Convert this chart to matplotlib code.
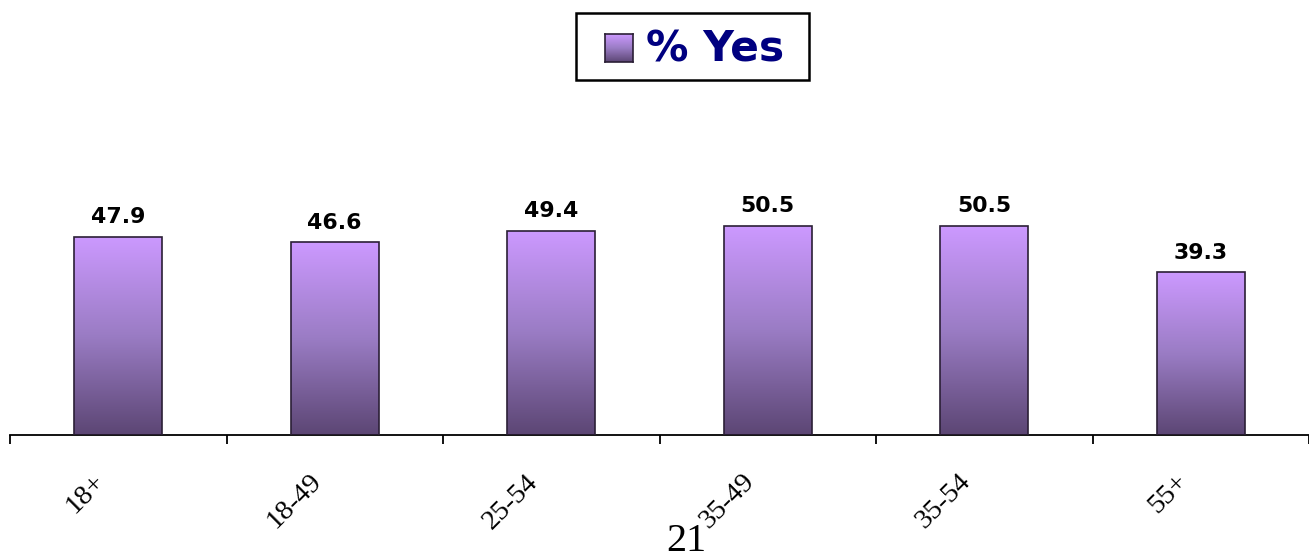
import numpy as np
import matplotlib.pyplot as plt
from matplotlib.colors import LinearSegmentedColormap
from matplotlib.patches import Rectangle
from matplotlib.transforms import ScaledTranslation

categories = ["18+", "18-49", "25-54", "35-49", "35-54", "55+"]
values = [47.9, 46.6, 49.4, 50.5, 50.5, 39.3]
series_name = "% Yes"
page_number = "21"

# purple fade, dark at the base, light at the top
fade = LinearSegmentedColormap.from_list("fade", ["#5c4674", "#9a7cc4", "#cc99ff"])
grad = np.linspace(0, 1, 256).reshape(-1, 1)

fig = plt.figure(figsize=(13.09, 5.57), dpi=100)
ax = fig.add_axes([10 / 1309, 122 / 557, 1299 / 1309, 335 / 557])

x = np.arange(len(categories))
bar_w = 0.406
bars = ax.bar(x, values, width=bar_w, color="none", edgecolor="#2b1f36",
              linewidth=1.2, zorder=3)
for b, v in zip(bars, values):
    x0 = b.get_x()
    im = ax.imshow(grad, cmap=fade, origin="lower", aspect="auto",
                   extent=[x0, x0 + b.get_width(), 0, v], zorder=2)
    im.set_clip_path(b)
    ax.text(b.get_x() + b.get_width() / 2, v + 3.3, f"{v:.1f}",
            ha="center", va="baseline", fontsize=15.8, fontweight="bold",
            family="DejaVu Sans", color="black")

ax.set_xlim(-0.5, len(categories) - 0.5)
ax.set_ylim(0, 81)
for s in ["top", "left", "right"]:
    ax.spines[s].set_visible(False)
ax.spines["bottom"].set_linewidth(1.3)
ax.set_yticks([])

ax.set_xticks(np.arange(-0.5, len(categories)), minor=True)
ax.tick_params(axis="x", which="minor", length=6.5, width=1.3, direction="out")
ax.set_xticks(x)
ax.set_xticklabels(categories, rotation=45, ha="right", va="center",
                   rotation_mode="anchor", family="Liberation Serif",
                   fontsize=20.5)
ax.tick_params(axis="x", which="major", length=0, pad=31)
shift = ScaledTranslation(-17 / 100, 0, fig.dpi_scale_trans)
for lab in ax.get_xticklabels():
    lab.set_transform(lab.get_transform() + shift)

# legend box
W, H = 1309, 557
fig.patches.append(Rectangle((576 / W, 1 - 80 / H), 233 / W, 67 / H,
                             transform=fig.transFigure, fill=False,
                             edgecolor="black", linewidth=1.8))
sw = fig.add_axes([605 / W, 1 - 62 / H, 28 / W, 28 / H])
sw.imshow(grad, cmap=fade, origin="lower", aspect="auto")
sw.set_xticks([])
sw.set_yticks([])
for s in sw.spines.values():
    s.set_linewidth(1.2)
    s.set_color("#2b1f36")
fig.text(646 / W, 1 - 49 / H, series_name, ha="left", va="center",
         fontsize=30.5, fontweight="bold", family="DejaVu Sans", color="#000080")

fig.text(686 / W, 1 - 551 / H, page_number, ha="center", va="baseline",
         fontsize=29, family="Liberation Serif", color="black")

fig.savefig("out.png", dpi=100)
